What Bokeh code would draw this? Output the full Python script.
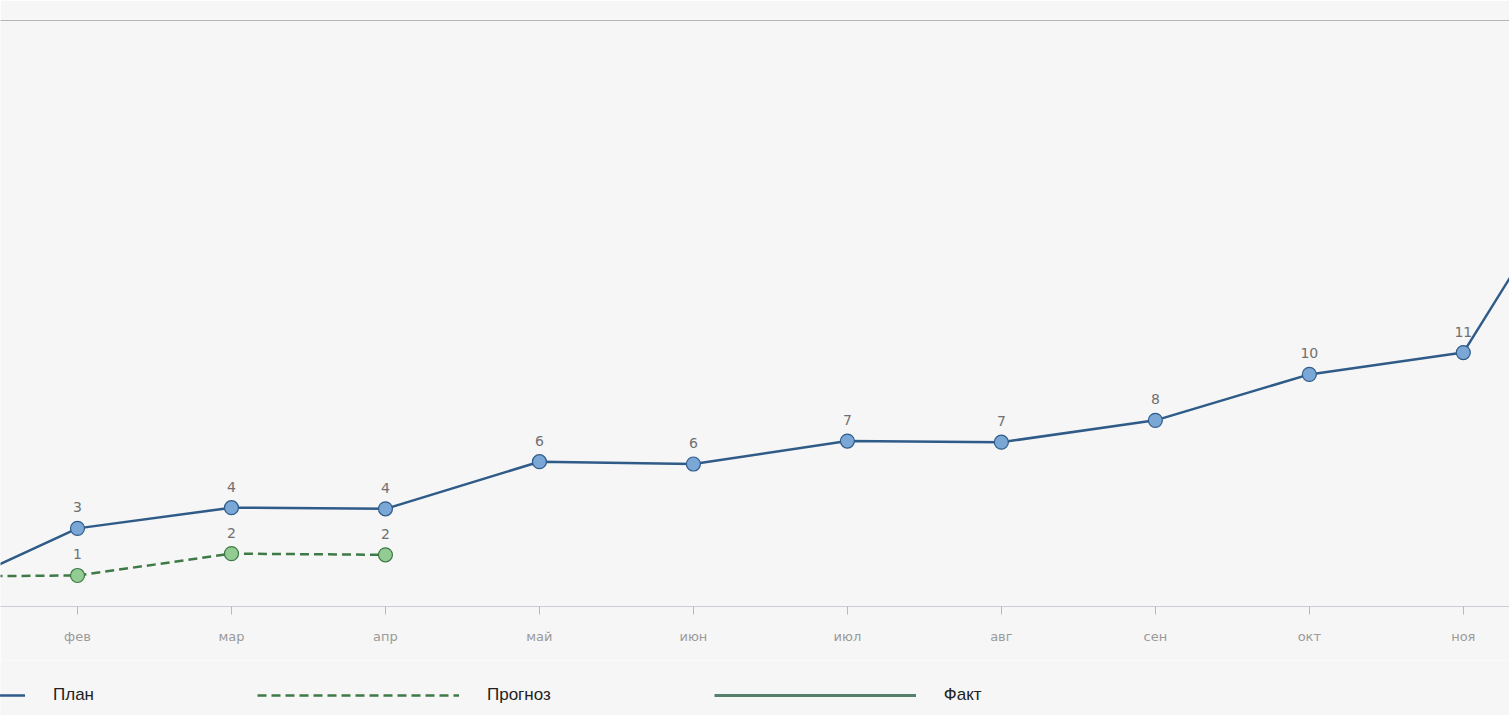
from bokeh.plotting import figure
from bokeh.models import (ColumnDataSource, LabelSet, Legend, LegendItem,
                          FixedTicker, LinearAxis, Range1d)
from bokeh.layouts import column
from bokeh.core.properties import value
from bokeh.embed import file_html
from bokeh.resources import INLINE

# ---- data ----
months = ["янв", "фев", "мар", "апр", "май", "июн", "июл", "авг", "сен", "окт", "ноя", "дек"]
plan = [0.0, 3.1, 4.0, 3.95, 6.0, 5.9, 6.9, 6.85, 7.8, 9.8, 10.75, 21.5]
forecast = [1.0, 1.05, 2.0, 1.95]
fact = []
series_names = ["План", "Прогноз", "Факт"]

# visible window of the chart (it is cropped on both sides)
x_start, x_end = 0.5, 10.3
y_start, y_end = -0.3, 25.2

BG = "#f6f6f6"
plan_col = "#2f5b88"
fc_col = "#3e7a45"
fact_col = "#55806a"

idx = list(range(len(months)))
plan_src = ColumnDataSource(dict(x=idx, y=plan))
fc_src = ColumnDataSource(dict(x=idx[:len(forecast)], y=forecast))
fact_src = ColumnDataSource(dict(x=idx[:len(fact)], y=fact))

vis = [i for i in idx if x_start < i < x_end]
plan_lbl = ColumnDataSource(dict(x=vis, y=[plan[i] for i in vis],
                                 t=[str(int(round(plan[i]))) for i in vis]))
vis_fc = [i for i in range(len(forecast)) if x_start < i < x_end]
fc_lbl = ColumnDataSource(dict(x=vis_fc, y=[forecast[i] for i in vis_fc],
                               t=[str(int(round(forecast[i]))) for i in vis_fc]))

p = figure(width=1509, height=660, output_backend="svg", toolbar_location=None,
           x_range=Range1d(x_start, x_end), y_range=Range1d(y_start, y_end),
           min_border_left=0, min_border_right=0, min_border_top=20, min_border_bottom=54)
p.background_fill_color = BG
p.border_fill_color = BG
p.outline_line_color = None
p.xgrid.grid_line_color = None
p.ygrid.grid_line_color = None
p.yaxis.visible = False

xa = p.xaxis[0]
xa.ticker = FixedTicker(ticks=idx)
xa.major_label_overrides = {i: m for i, m in enumerate(months)}
xa.axis_line_color = "#c9cdd8"
xa.major_tick_line_color = "#b8b8b8"
xa.major_tick_out = 8
xa.major_tick_in = 0
xa.minor_tick_line_color = None
xa.major_label_standoff = 14
xa.major_label_text_color = "#9a9a9a"
xa.major_label_text_font = "DejaVu Sans"
xa.major_label_text_font_size = "13px"

top = LinearAxis(ticker=FixedTicker(ticks=[]), axis_line_color="#b5b5b5",
                 major_tick_line_color=None, minor_tick_line_color=None,
                 major_label_text_font_size="0px")
p.add_layout(top, "above")

p.line("x", "y", source=plan_src, line_color=plan_col, line_width=2.5)
p.scatter("x", "y", source=plan_src, size=14, fill_color="#7aa7d6",
          line_color=plan_col, line_width=1.2)
p.line("x", "y", source=fc_src, line_color=fc_col, line_width=2.5, line_dash="9 5")
p.scatter("x", "y", source=fc_src, size=14, fill_color="#93cc93",
          line_color=fc_col, line_width=1.2)
p.line("x", "y", source=fact_src, line_color=fact_col, line_width=3)

for src in (plan_lbl, fc_lbl):
    p.add_layout(LabelSet(x="x", y="y", text="t", source=src, y_offset=16,
                          text_align="center", text_baseline="bottom",
                          text_color="#707070", text_font=value("DejaVu Sans"),
                          text_font_size="14px"))

# ---- legend strip below the chart ----
# its ranges lie far from the data, so the proxy renderers themselves stay hidden
lf = figure(width=1509, height=55, output_backend="svg", toolbar_location=None,
            x_range=Range1d(-200, -199), y_range=Range1d(-200, -199),
            min_border_left=0, min_border_right=0, min_border_top=0, min_border_bottom=0)
lf.axis.visible = False
lf.grid.visible = False
lf.outline_line_color = None
lf.background_fill_color = BG
lf.border_fill_color = BG
l1 = lf.line("x", "y", source=plan_src, line_color=plan_col, line_width=2.5)
l2 = lf.line("x", "y", source=plan_src, line_color=fc_col, line_width=2.5, line_dash="9 5")
l3 = lf.line("x", "y", source=plan_src, line_color=fact_col, line_width=3)

legend = Legend(items=[LegendItem(label=n, renderers=[r])
                       for n, r in zip(series_names, (l1, l2, l3))],
                orientation="horizontal", location=(-177, 10),
                glyph_width=202, glyph_height=20, label_height=20,
                label_standoff=28, spacing=163, padding=0, margin=0,
                border_line_color=None, background_fill_alpha=0,
                label_text_font="Liberation Sans", label_text_font_size="17px",
                label_text_color="#222222")
lf.add_layout(legend, "center")

open("out.html", "w").write(file_html(column(p, lf, spacing=0), INLINE))
